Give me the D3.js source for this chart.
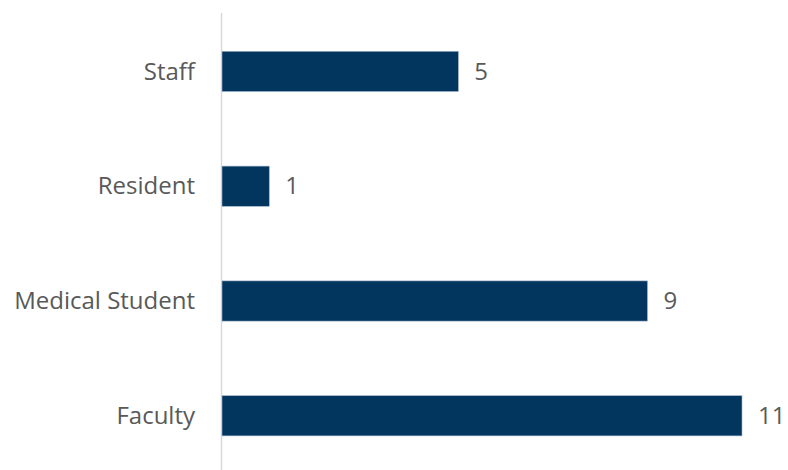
<!DOCTYPE html>
<html>
<head>
<meta charset="utf-8">
<script src="https://cdn.jsdelivr.net/npm/d3@7"></script>
<style>
  html, body { margin: 0; padding: 0; background: #fff; }
  svg { display: block; }
  text { font-family: "Open Sans", "Noto Sans", sans-serif; fill: #595959; }
</style>
</head>
<body>
<div id="chart"></div>
<script>
// Headcount by role, listed top to bottom
const categories = ["Staff", "Resident", "Medical Student", "Faculty"];
const counts = [5, 1, 9, 11];

const width = 788, height = 470;
const x0 = 221.5;
const fontSize = 24;

const svg = d3.select("#chart").append("svg")
  .attr("width", width).attr("height", height);

const x = d3.scaleLinear().domain([0, 11]).range([x0 + 0.5, 742]);
const y = d3.scaleBand().domain(categories).range([14, 473.2])
  .paddingInner(0.65).paddingOuter(0.325);

// vertical category axis line
svg.append("line")
  .attr("x1", x0).attr("x2", x0)
  .attr("y1", 13).attr("y2", height)
  .attr("stroke", "#d9d9d9").attr("stroke-width", 1.5);

// category labels
svg.selectAll("text.cat").data(categories).join("text")
  .attr("class", "cat")
  .attr("x", 195)
  .attr("y", d => y(d) + y.bandwidth() / 2)
  .attr("dy", "0.34em")
  .attr("text-anchor", "end")
  .attr("font-size", fontSize)
  .text(d => d);

// bars
svg.selectAll("rect.bar").data(categories).join("rect")
  .attr("class", "bar")
  .attr("x", x(0))
  .attr("y", (d) => y(d))
  .attr("width", (d, i) => x(counts[i]) - x(0))
  .attr("height", y.bandwidth())
  .attr("fill", "#03365f")
  .attr("stroke", "#9fb2c8").attr("stroke-width", 0.6);

// value labels
svg.selectAll("text.val").data(categories).join("text")
  .attr("class", "val")
  .attr("x", (d, i) => x(counts[i]) + 16)
  .attr("y", d => y(d) + y.bandwidth() / 2)
  .attr("dy", "0.34em")
  .attr("font-size", fontSize)
  .text((d, i) => counts[i]);
</script>
</body>
</html>
